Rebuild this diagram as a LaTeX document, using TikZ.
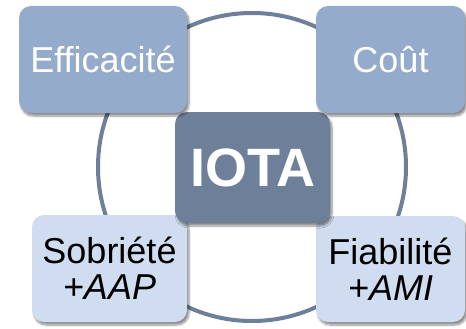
\documentclass[tikz,border=0pt]{standalone}
\usepackage{fontspec}
\setmainfont{Liberation Sans}
\usetikzlibrary{shadows.blur}
\definecolor{ring}{HTML}{6E7F99}
\definecolor{topbox}{HTML}{95ABCB}
\definecolor{botbox}{HTML}{D0DCEF}
\definecolor{core}{HTML}{6E7F99}
\tikzset{
  card/.style={rectangle, rounded corners=12pt, inner sep=0pt,
    blur shadow={shadow xshift=2pt, shadow yshift=-3pt, shadow blur steps=6, shadow blur extra rounding=2pt, shadow opacity=45}},
  topcard/.style={card, fill=topbox, text=white, font=\fontsize{36}{37}\selectfont},
  botcard/.style={card, fill=botbox, text=black, align=center, font=\fontsize{36}{37}\selectfont},
  corecard/.style={card, fill=core, text=white, font=\fontsize{54}{56}\bfseries\selectfont},
}
\begin{document}
\begin{tikzpicture}[x=1pt,y=-1pt]
\useasboundingbox (0,0) rectangle (466,329);
\coordinate (c) at (252,167);
\draw[ring, line width=4pt] (c) circle[radius=154pt];
\node[botcard, minimum width=155pt, minimum height=107pt] (sob) at (109.5,268.5) {Sobriété\\[-1pt]\textit{+AAP}};
\node[botcard, minimum width=149pt, minimum height=106pt] (fia) at (390.5,269) {Fiabilité\\[-1pt]\textit{+AMI}};
\node[corecard, minimum width=155pt, minimum height=111pt] (iota) at (252.5,167.5) {IOTA};
\node[topcard, minimum width=168pt, minimum height=107pt] (eff) at (103,59.5) {Efficacité};
\node[topcard, minimum width=149pt, minimum height=107pt] (cout) at (390.5,59.5) {Coût};
\end{tikzpicture}
\end{document}
